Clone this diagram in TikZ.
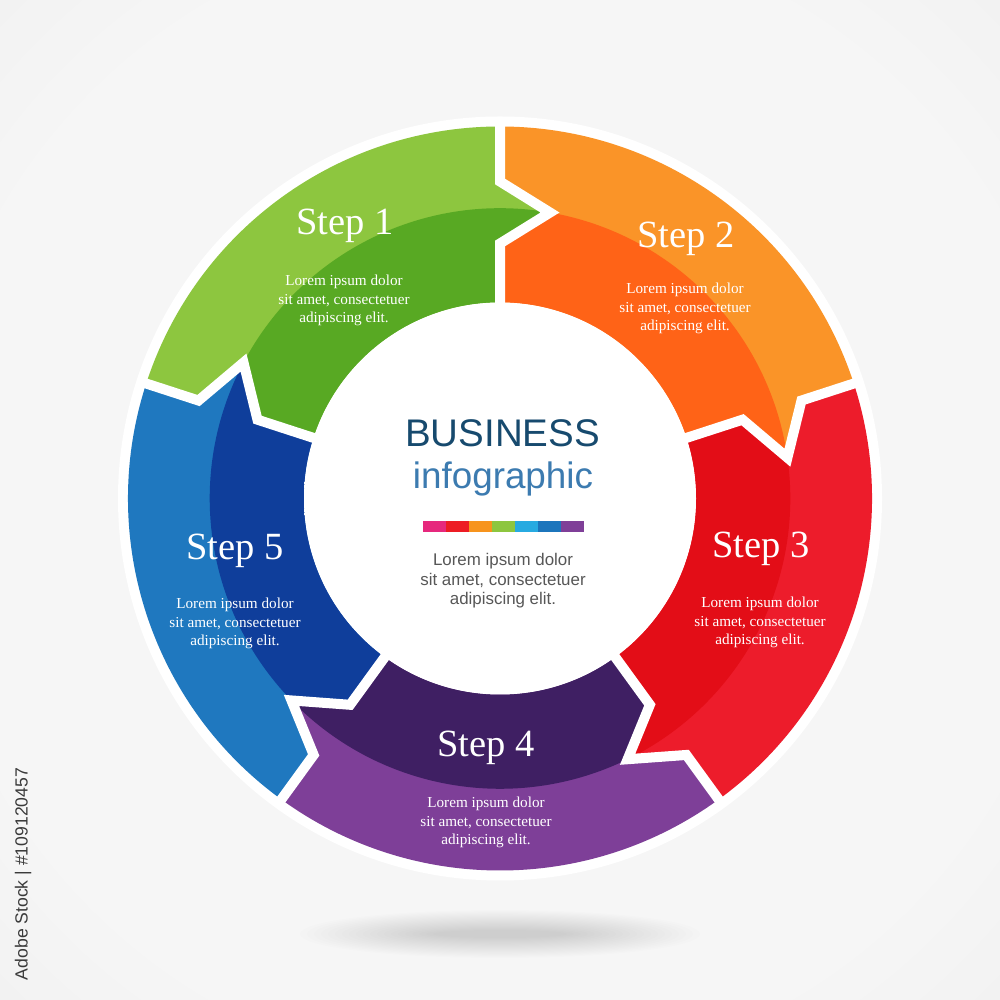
\documentclass[tikz,border=0pt]{standalone}
\usepackage{fontspec}
\setmainfont{Liberation Serif}
\setsansfont{Liberation Sans}
\newfontfamily\arialf{Liberation Sans}
\definecolor{g1}{HTML}{8DC63F}
\definecolor{g2}{HTML}{58A923}
\definecolor{o1}{HTML}{FA9428}
\definecolor{o2}{HTML}{FF6317}
\definecolor{r1}{HTML}{ED1C2B}
\definecolor{r2}{HTML}{E30D17}
\definecolor{p1}{HTML}{7E3F98}
\definecolor{p2}{HTML}{3F1F63}
\definecolor{b1}{HTML}{1F78BF}
\definecolor{b2}{HTML}{0F3E9B}
\definecolor{cb1}{HTML}{E6287D}
\definecolor{cb2}{HTML}{ED1C24}
\definecolor{cb3}{HTML}{F7941D}
\definecolor{cb4}{HTML}{8DC63F}
\definecolor{cb5}{HTML}{27AAE1}
\definecolor{cb6}{HTML}{1C75BC}
\definecolor{cb7}{HTML}{7F3F98}
\definecolor{busc}{HTML}{174A6E}
\definecolor{infc}{HTML}{3C7BB0}
\definecolor{lorc}{HTML}{575757}
\definecolor{credc}{HTML}{3A3A3A}
\definecolor{bgA}{HTML}{F6F6F6}
\definecolor{bgB}{HTML}{EAEAEA}
\definecolor{bgC}{HTML}{DEDEDE}
\definecolor{inA}{HTML}{FFFFFF}
\definecolor{inB}{HTML}{F1F1F1}
\definecolor{inC}{HTML}{F8F8F8}
\pgfdeclareradialshading{bgshade}{\pgfpointorigin}{color(0bp)=(bgA); color(28bp)=(bgA); color(50bp)=(bgB); color(75bp)=(bgC)}
\pgfdeclareradialshading{innershade}{\pgfpointorigin}{color(0bp)=(inA); color(36bp)=(inA); color(47bp)=(inB); color(50bp)=(inC)}
\setlength{\tabcolsep}{0pt}
\newcommand\loremtxt{\begin{tabular}[t]{c}Lorem ipsum dolor\\sit amet, consectetuer\\adipiscing elit.\end{tabular}}
\tikzset{
  steptitle/.style={anchor=base, text=white, inner sep=0pt, font=\fontsize{38.5}{40}\selectfont},
  steptext/.style={anchor=base, text=white, inner sep=0pt, font=\fontsize{15.2}{18.2}\selectfont},
  gapline/.style={white, line width=10pt, line join=miter}
}
\begin{document}
\begin{tikzpicture}[x=1pt,y=1pt]
\useasboundingbox (0,0) rectangle (1000,1000);
\shade[shading=bgshade] (0,0) rectangle (1000,1000);
% soft shadow under the ring
\foreach \i in {0,...,19} {
  \fill[black, opacity=0.009] (500,66) ellipse ({200-7*\i} and {24-1.05*\i});
}
\coordinate (C) at (500,501.5);
\fill[white] (C) circle (382);
\begin{scope}[shift={(C)}]
  \foreach \k/\lc/\dc in {0/g1/g2, 1/o1/o2, 2/r1/r2, 3/p1/p2, 4/b1/b2} {
    \pgfmathsetmacro\ta{162-72*\k}
    \pgfmathsetmacro\ha{90-72*\k}
    \fill[\lc] (\ta:372) arc[start angle=\ta, end angle=\ha, radius=372]
      -- (\ha:317) -- (\ha-9.92:290.3) -- (\ha:255) -- (\ha:196)
      arc[start angle=\ha, end angle=\ta, radius=196]
      -- (\ta:255) -- (\ta-9.92:290.3) -- (\ta:317) -- cycle;
    \fill[\dc] (\ha-9.92:290.3) -- (\ha:255) -- (\ha:196)
      arc[start angle=\ha, end angle=\ta, radius=196]
      -- (\ta:255) -- (\ta-9.92:290.3)
      arc[start angle=\ta-9.92, end angle=\ha-9.92, radius=290.3] -- cycle;
  }
  \foreach \b in {90,18,-54,-126,162} {
    \draw[gapline] (\b:380) -- (\b:317) -- (\b-9.92:290.3) -- (\b:255) -- (\b:190);
  }
\end{scope}
\shade[shading=innershade] (C) circle (196);
% step labels
\node[steptitle] (s1) at (345,765) {Step 1};
\node[steptext] (t1) at (344,714) {\loremtxt};
\node[steptitle] (s2) at (686,752) {Step 2};
\node[steptext] (t2) at (685,706) {\loremtxt};
\node[steptitle] (s3) at (761,442) {Step 3};
\node[steptext] (t3) at (760,392) {\loremtxt};
\node[steptitle] (s4) at (486,243) {Step 4};
\node[steptext] (t4) at (486,192) {\loremtxt};
\node[steptitle] (s5) at (235,440) {Step 5};
\node[steptext] (t5) at (235,391) {\loremtxt};
% centre
\node[anchor=base, inner sep=0pt, text=busc, font=\arialf\fontsize{38.5}{40}\selectfont] (bus) at (502.5,553) {BUSINESS};
\node[anchor=base, inner sep=0pt, text=infc, font=\arialf\fontsize{36.8}{40}\selectfont] (inf) at (503,511) {infographic};
\foreach \c [count=\i from 0] in {cb1,cb2,cb3,cb4,cb5,cb6,cb7} {
  \fill[\c] (423+23*\i,468) rectangle ++(23,11);
}
\node[anchor=base, inner sep=0pt, text=lorc, font=\arialf\fontsize{16.9}{19.5}\selectfont] (ct) at (503,434) {\loremtxt};
% credit
\node[rotate=90, inner sep=0pt, text=credc, font=\arialf\fontsize{17.6}{20}\selectfont] (credit) at (23,126) {Adobe Stock | \#109120457};
\end{tikzpicture}
\end{document}
